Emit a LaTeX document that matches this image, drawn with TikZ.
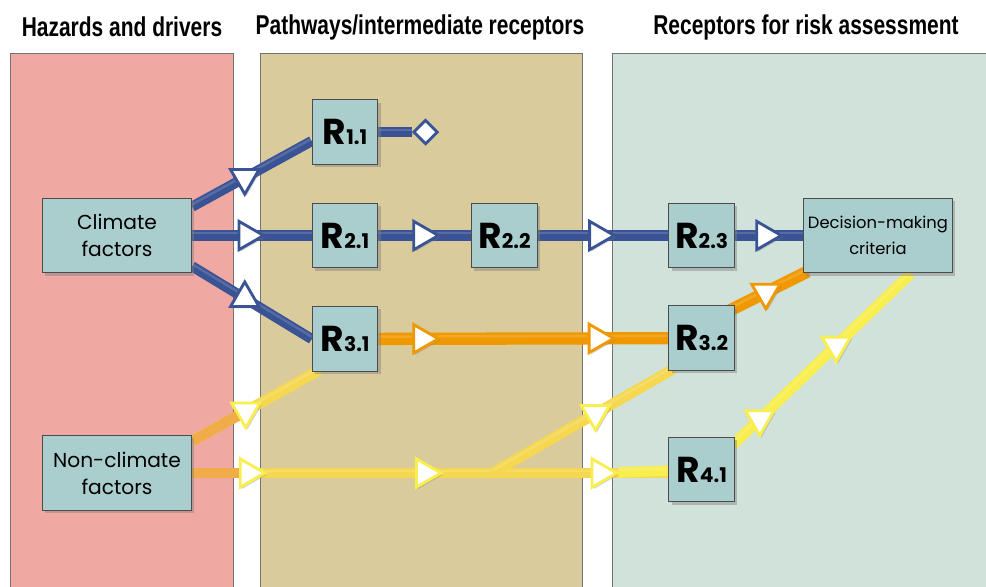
\documentclass[tikz,border=0pt]{standalone}
\usepackage{fontspec}
\setmainfont{Poppins}
\newfontfamily\headfont{Liberation Sans}[FakeStretch=0.77]
\usetikzlibrary{positioning, shapes.geometric, shadows, calc}
\definecolor{PanelRed}{RGB}{240,168,162}
\definecolor{PanelTan}{RGB}{217,203,156}
\definecolor{PanelGreen}{RGB}{209,226,219}
\definecolor{BoxTeal}{RGB}{170,206,205}
\definecolor{LinkBlue}{RGB}{58,83,148}
\definecolor{LinkOrange}{RGB}{240,152,0}
\definecolor{LinkAmber}{RGB}{240,172,72}
\definecolor{LinkYellow}{RGB}{245,216,80}
\definecolor{LinkLemon}{RGB}{248,238,78}

\pgfdeclarelayer{panels}
\pgfdeclarelayer{links}
\pgfsetlayers{panels,links,main}

\newcommand{\Rlab}[1]{{\bfseries\fontsize{20.5}{22}\selectfont R}{\bfseries\fontsize{11.5}{12}\selectfont #1}}

\begin{document}
\begin{tikzpicture}[x=0.02cm, y=-0.02cm,
    panel/.style={draw=black!55, line width=0.5pt},
    head/.style={font=\headfont\bfseries\fontsize{15.5}{17}\selectfont},
    factor/.style={rectangle, draw=black!70, fill=BoxTeal, line width=0.6pt, minimum width=85pt, minimum height=42.5pt, inner sep=0pt, align=center, font=\fontsize{11.5}{15.3}\selectfont, drop shadow={shadow xshift=1.6pt, shadow yshift=-1.6pt, opacity=0.45}},
    recep/.style={factor, minimum width=37.4pt, minimum height=36.8pt},
    link/.style={line width=5.8pt, preaction={draw=black, opacity=0.2, transform canvas={shift={(1.1pt,-1.1pt)}}}, postaction={draw=white, opacity=0.15, line width=1.4pt, transform canvas={shift={(0pt,1.3pt)}}}},
    blueln/.style={link, draw=LinkBlue},
    orangeln/.style={link, draw=LinkOrange, line width=7pt},
    yellowln/.style={link, draw=LinkYellow, line width=6pt},
    lemonln/.style={link, draw=LinkLemon, line width=6pt},
    amberln/.style={draw=LinkAmber, line width=6pt},
    tri/.style={isosceles triangle, isosceles triangle apex angle=60, fill=white, line width=1.6pt, inner sep=0pt, minimum height=14pt, drop shadow={shadow xshift=1pt, shadow yshift=-1pt, opacity=0.35}},
    triB/.style={tri, draw=LinkBlue},
    triO/.style={tri, draw=LinkOrange},
    triY/.style={tri, draw=LinkLemon}
  ]
  \useasboundingbox (0,0) rectangle (986,586);

  % column headings
  \node[head] (h1) at (122,27) {Hazards and drivers};
  \node[head] (h2) at (420,27) {Pathways/intermediate receptors};
  \node[head] (h3) at (806,27) {Receptors for risk assessment};

  % boxes
  \node[factor] (clim) at (117,235.5) {Climate\\factors};
  \node[factor] (nonc) at (117,473) {Non-climate\\factors};
  \node[recep, right=68pt of clim] (r21) {\Rlab{2.1}};
  \node[recep, above=21.5pt of r21] (r11) {\Rlab{1.1}};
  \node[recep, below=21.5pt of r21] (r31) {\Rlab{3.1}};
  \node[recep, right=52.7pt of r21] (r22) {\Rlab{2.2}};
  \node[recep, right=74.3pt of r22] (r23) {\Rlab{2.3}};
  \node[recep, below=21pt of r23] (r32) {\Rlab{3.2}};
  \node[recep, below=37.4pt of r32] (r41) {\Rlab{4.1}};
  \node[factor, right=38.5pt of r23, font=\fontsize{9.3}{14.7}\selectfont] (dec) {Decision-making\\criteria};
  \node[diamond, draw=LinkBlue, fill=white, line width=1.6pt, inner sep=0pt, minimum size=14pt, right=19pt of r11] (end11) {};

  \begin{pgfonlayer}{panels}
    \draw[panel, fill=PanelRed] (10,53) rectangle (233,600);
    \draw[panel, fill=PanelTan] (260,53) rectangle (582,600);
    \draw[panel, fill=PanelGreen] (612,53) rectangle (1000,600);
  \end{pgfonlayer}

  \begin{pgfonlayer}{links}
    % blue chain
    \draw[blueln] ($(clim.north east)+(0,9)$) -- node[triB, pos=.44, shape border rotate=-95] (t1) {} ($(r11.west)+(0,9)$);
    \draw[blueln] (clim.east) -- node[triB, pos=.46] (t2) {} (r21.west);
    \draw[blueln] ($(clim.south east)+(0,-7)$) -- node[triB, pos=.44, shape border rotate=95] (t3) {} (r31.west);
    \draw[blueln] (r11) -- (end11);
    \draw[blueln] (r21) -- node[triB, pos=.47] (t5) {} (r22);
    \draw[blueln] (r22) -- node[triB, pos=.46] (t6) {} (r23);
    \draw[blueln] (r23) -- node[triB, pos=.44] (t7) {} (dec);
    % orange chain
    \draw[orangeln] (r31) -- node[triO, pos=.15] (t8a) {} node[triO, pos=.755] (t8b) {} (r32);
    \draw[orangeln] ($(r32.north east)+(-5,5)$) -- node[triO, pos=.46, shape border rotate=-90] (t9) {} ($(dec.south west)+(5,-2)$);
    % yellow chain
    \coordinate (fork) at ($(nonc.east)!0.63!(nonc.east -| r41.west)$);
    \draw[yellowln] (nonc.east) -- node[triY, pos=.118] (t11a) {} node[triY, pos=.488] (t11b) {} node[triY, pos=.857] (t11c) {} (nonc.east -| r41.west);
    \draw[amberln] (nonc) -- (t11a);
    \draw[lemonln] (t11c) -- (r41);
    \draw[yellowln] (fork) -- node[triY, pos=.57, shape border rotate=-90] (t12) {} ($(r32.south west)+(5,-2)$);
    \draw[yellowln] ($(nonc.north east)+(0,6)$) -- node[triY, pos=.42, shape border rotate=-90] (t10) {} ($(r31.south west)+(8,-2)$);
    \draw[amberln] ($(nonc.north east)+(0,6)$) -- (t10);
    \draw[lemonln] ($(r41.north east)+(-2,8)$) -- node[triY, pos=.15, shape border rotate=-80] (t13a) {} node[triY, pos=.58, shape border rotate=-80] (t13b) {} ($(dec.south)+(33,0)$);
  \end{pgfonlayer}
\end{tikzpicture}
\end{document}
